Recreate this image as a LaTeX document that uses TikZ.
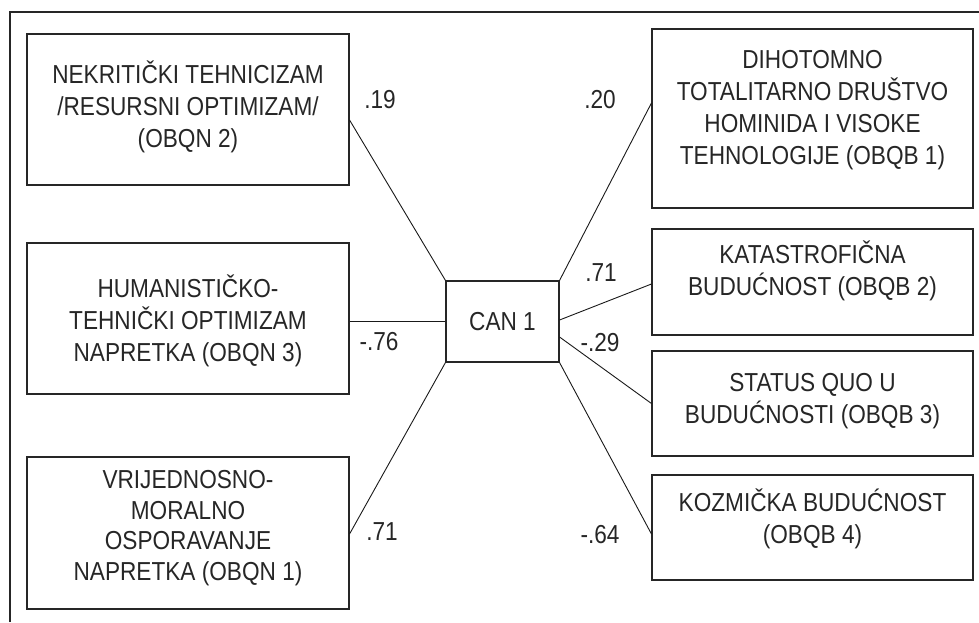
\documentclass[tikz,border=0pt]{standalone}
\usepackage{fontspec}
\setmainfont{Liberation Sans}[FakeStretch=0.87]
\begin{document}
\begin{tikzpicture}[x=1pt,y=-1pt,
  box/.style={draw=black!85, line width=1.1pt, inner sep=0pt},
  txt/.style={font=\fontsize{26}{32}\selectfont, align=center, text=black!85, inner sep=0pt},
  lab/.style={font=\fontsize{26}{30}\selectfont, text=black!85, inner sep=0pt},
  conn/.style={draw=black!90, line width=0.9pt}]
\useasboundingbox (0,0) rectangle (979,622);
% frame
\draw[line width=1.1pt, black!85] (10,622) -- (10,12) -- (979,12);
% boxes
\node[box, minimum width=322pt, minimum height=151pt] (b1) at (188,109.5) {};
\node[box, minimum width=322pt, minimum height=151pt] (b3) at (188,318.5) {};
\node[box, minimum width=322pt, minimum height=152pt] (b4) at (188,533) {};
\node[box, minimum width=321pt, minimum height=179pt] (d1) at (812.5,118.5) {};
\node[box, minimum width=321pt, minimum height=106pt] (k2) at (812.5,282) {};
\node[box, minimum width=321pt, minimum height=105pt] (s3) at (812.5,403.5) {};
\node[box, minimum width=321pt, minimum height=105pt] (z4) at (812.5,527.5) {};
\node[box, minimum width=113pt, minimum height=81pt] (can) at (502.5,321.5) {};
% texts
\node[txt] (t1) at (188,107) {NEKRITIČKI TEHNICIZAM\\/RESURSNI OPTIMIZAM/\\(OBQN 2)};
\node[txt] (t3) at (188,321) {HUMANISTIČKO-\\TEHNIČKI OPTIMIZAM\\NAPRETKA (OBQN 3)};
\node[txt, font=\fontsize{26}{30.5}\selectfont] (t4) at (188,528) {VRIJEDNOSNO-\\MORALNO\\OSPORAVANJE\\NAPRETKA (OBQN 1)};
\node[txt] (td) at (812.5,110.5) {DIHOTOMNO\\TOTALITARNO DRUŠTVO\\HOMINIDA I VISOKE\\TEHNOLOGIJE (OBQB 1)};
\node[txt] (tk) at (812.5,271) {KATASTROFIČNA\\BUDUĆNOST (OBQB 2)};
\node[txt] (ts) at (812.5,401) {STATUS QUO U\\BUDUĆNOSTI (OBQB 3)};
\node[txt] (tz) at (812.5,518.5) {KOZMIČKA BUDUĆNOST\\(OBQB 4)};
\node[txt] (tc) at (502.5,321.5) {CAN 1};
% connectors
\draw[conn] ([yshift=-10.5pt]b1.east) -- (can.north west);
\draw[conn] ([yshift=15.5pt]d1.west) -- (can.north east);
\draw[conn] (can.west -| b3.east) -- (can.west);
\draw[conn] ([yshift=-1pt]b4.east) -- (can.south west);
\draw[conn] ([yshift=1.5pt]can.east) -- ([yshift=-2pt]k2.west);
\draw[conn] ([yshift=-15.5pt]can.east) -- (s3.west);
\draw[conn] (can.south east) -- ([yshift=-6.5pt]z4.west);
% labels
\node[lab] (l1) at (380,100) {.19};
\node[lab] (l2) at (600,100) {.20};
\node[lab] (l3) at (379,342) {-.76};
\node[lab] (l4) at (601,273) {.71};
\node[lab] (l5) at (600,343) {-.29};
\node[lab] (l6) at (382,532) {.71};
\node[lab] (l7) at (600,535) {-.64};
\end{tikzpicture}
\end{document}
